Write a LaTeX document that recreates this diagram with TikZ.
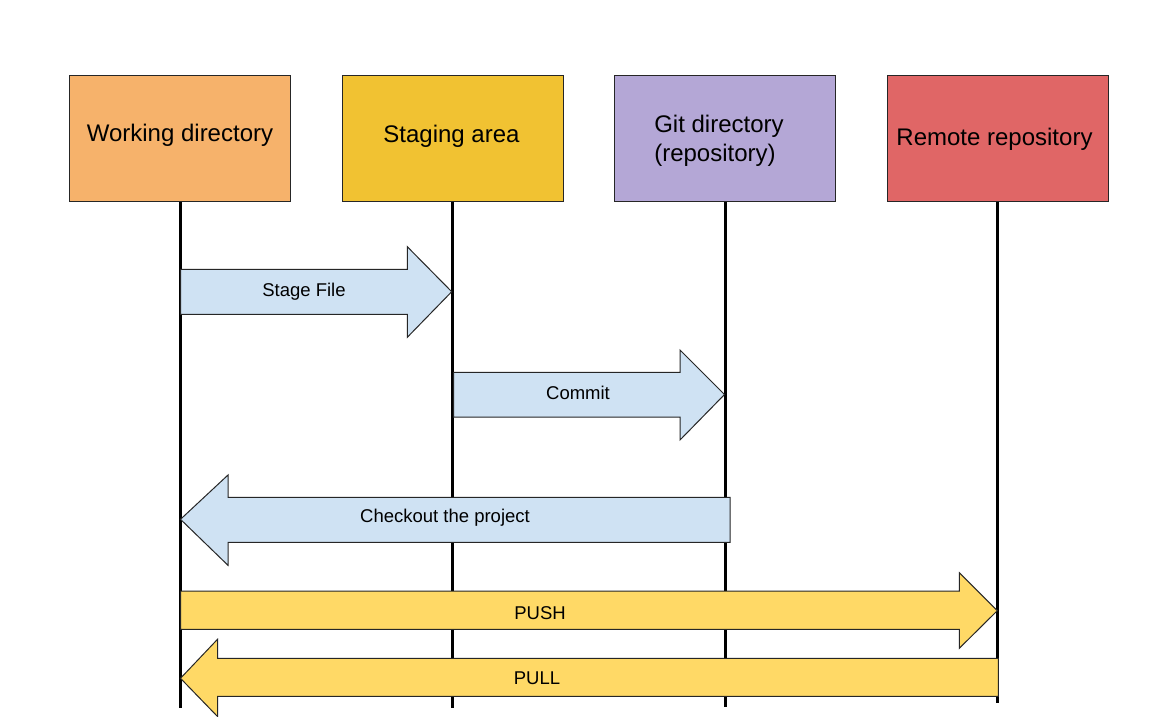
\documentclass[tikz,border=0pt]{standalone}
\usepackage{fontspec}
\setmainfont{Liberation Sans}
\definecolor{cWork}{HTML}{F6B26B}
\definecolor{cStage}{HTML}{F1C232}
\definecolor{cGit}{HTML}{B4A7D6}
\definecolor{cRemote}{HTML}{E06666}
\definecolor{cBlue}{HTML}{CFE2F3}
\definecolor{cYellow}{HTML}{FFD966}
\begin{document}
\begin{tikzpicture}[x=1pt,y=-1pt,
  box/.style={draw=black!85,line width=1pt,minimum width=221pt,minimum height=126pt,inner sep=0pt},
  boxtxt/.style={inner sep=0pt,font=\fontsize{24}{29}\selectfont},
  life/.style={line width=3pt,black},
  bluearrow/.style={draw=black!85,line width=1pt,fill=cBlue,line join=miter},
  yelarrow/.style={draw=black!85,line width=1pt,fill=cYellow,line join=miter},
  lbl/.style={font=\fontsize{18.5}{22}\selectfont,inner sep=0pt}]
\useasboundingbox (0,0) rectangle (1164,716);
\fill[white] (0,0) rectangle (1164,716);
% boxes
\node[box,fill=cWork] (work) at (180,138) {};
\node[box,fill=cStage] (stage) at (452.5,138) {};
\node[box,fill=cGit] (git) at (725,138) {};
\node[box,fill=cRemote] (remote) at (997.5,138) {};
\node[boxtxt] (workTxt) at (180,135) {Working directory};
\node[boxtxt] (stageTxt) at (451.5,136) {Staging area};
\node[boxtxt,align=left] (gitTxt) at (719,141) {Git directory\\(repository)};
\node[boxtxt] (remoteTxt) at (994.5,139) {Remote repository};
% lifeline ends
\coordinate (workEnd) at (180.5,708);
\coordinate (stageEnd) at (452.3,708);
\coordinate (gitEnd) at (725,707);
\coordinate (remoteEnd) at (997.7,703);
\draw[life] (work.south -| workEnd) -- (workEnd);
\draw[life] (stage.south -| stageEnd) -- (stageEnd);
\draw[life] (git.south -| gitEnd) -- (gitEnd);
\draw[life] (remote.south -| remoteEnd) -- (remoteEnd);
% Stage file
\draw[bluearrow] (180.7,269.3) -- (407.3,269.3) -- (407.3,246.7) -- (451.7,291.7) -- (407.3,337.3) -- (407.3,314.3) -- (180.7,314.3) -- cycle;
\node[lbl] (stagelbl) at (304,291.5) {Stage File};
% Commit
\draw[bluearrow] (453.5,372.3) -- (680,372.3) -- (680,350) -- (724.5,394.5) -- (680,440) -- (680,417) -- (453.5,417) -- cycle;
\node[lbl] (commitlbl) at (578,392.5) {Commit};
% Checkout
\draw[bluearrow] (180.5,519.3) -- (228,475) -- (228,497.3) -- (730,497.3) -- (730,542.3) -- (228,542.3) -- (228,565.3) -- cycle;
\node[lbl] (checklbl) at (445,517.5) {Checkout the project};
% PUSH
\draw[yelarrow] (180.5,591) -- (959.3,591) -- (959.3,572.7) -- (997.3,610.7) -- (959.3,648.3) -- (959.3,629.3) -- (180.5,629.3) -- cycle;
\node[lbl] (pushlbl) at (540,613) {PUSH};
% PULL
\draw[yelarrow] (180.5,678.3) -- (217.5,639.3) -- (217.5,658.3) -- (998.3,658.3) -- (998.3,696.3) -- (217.5,696.3) -- (217.5,716.5) -- cycle;
\node[lbl] (pulllbl) at (537,678) {PULL};
\end{tikzpicture}
\end{document}
